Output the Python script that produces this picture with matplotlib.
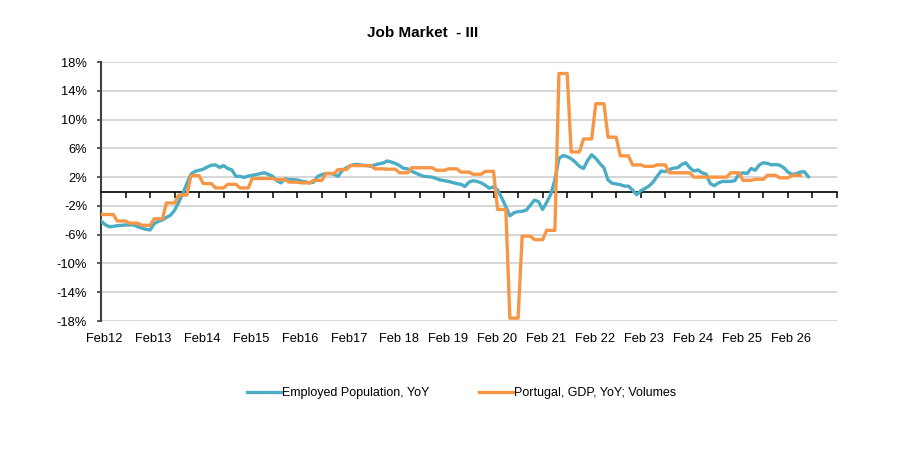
import numpy as np
import matplotlib
matplotlib.use("Agg")
import matplotlib.pyplot as plt
from matplotlib.lines import Line2D

plt.rcParams['font.family'] = ['Liberation Sans', 'DejaVu Sans']

title = "Job Market  - III"
series_names = ["Employed Population, YoY", "Portugal, GDP, YoY; Volumes"]
x_tick_labels = ["Feb12", "Feb13", "Feb14", "Feb15", "Feb16", "Feb17",
                 "Feb 18", "Feb 19", "Feb 20", "Feb 21", "Feb 22", "Feb 23",
                 "Feb 24", "Feb 25", "Feb 26"]
y_ticks = [-18, -14, -10, -6, -2, 2, 6, 10, 14, 18]

# Employed population YoY (%), monthly from Feb 2012
employment_yoy = [
    -4.1, -4.6, -4.9, -4.85, -4.75, -4.7, -4.65, -4.65, -4.65, -4.9, -5.1, -5.25,
    -5.35, -4.5, -4.15, -3.95, -3.6, -3.3, -2.6, -1.5, -0.3, 1.1, 2.4, 2.8,
    2.95, 3.1, 3.4, 3.65, 3.7, 3.35, 3.6, 3.2, 3.0, 2.1, 2.1, 1.95,
    2.15, 2.25, 2.35, 2.5, 2.6, 2.35, 2.1, 1.5, 1.2, 1.75, 1.65, 1.65,
    1.6, 1.45, 1.35, 1.2, 1.3, 2.1, 2.35, 2.5, 2.5, 2.4, 2.1, 2.95,
    3.3, 3.6, 3.75, 3.75, 3.65, 3.6, 3.5, 3.7, 3.85, 3.95, 4.25, 4.1,
    3.9, 3.6, 3.2, 3.15, 2.8, 2.55, 2.3, 2.1, 2.05, 2.0, 1.8, 1.6,
    1.5, 1.4, 1.25, 1.1, 1.0, 0.7, 1.3, 1.5, 1.4, 1.2, 0.85, 0.45,
    0.65, 0.2, -0.9, -2.1, -3.4, -2.95, -2.8, -2.75, -2.6, -1.9, -1.2, -1.4,
    -2.5, -1.5, -0.4, 1.6, 4.6, 5.0, 4.85, 4.55, 4.1, 3.5, 3.2, 4.3,
    5.1, 4.6, 3.9, 3.3, 1.6, 1.15, 1.05, 0.95, 0.75, 0.75, 0.2, -0.45,
    0.1, 0.4, 0.75, 1.3, 2.1, 2.85, 2.75, 3.05, 3.25, 3.3, 3.75, 4.0,
    3.3, 2.85, 3.0, 2.6, 2.4, 1.1, 0.8, 1.2, 1.4, 1.4, 1.4, 1.5,
    2.4, 2.6, 2.5, 3.2, 2.95, 3.7, 4.0, 3.9, 3.7, 3.75, 3.65, 3.3,
    2.7, 2.4, 2.45, 2.7, 2.75, 2.05,
]

# Portugal GDP YoY volumes (%), quarterly from Q1 2012
gdp_yoy_q = [
    -3.2, -4.1, -4.4, -4.7, -3.8, -1.6, -0.5, 2.2,
    1.1, 0.5, 1.0, 0.5, 1.8, 1.8, 1.65, 1.3,
    1.2, 1.55, 2.5, 3.05, 3.6, 3.6, 3.15, 3.1,
    2.6, 3.3, 3.3, 2.95, 3.15, 2.7, 2.4, 2.8,
    -2.5, -17.6, -6.2, -6.7, -5.4, 16.4, 5.5, 7.3,
    12.2, 7.55, 4.95, 3.7, 3.5, 3.7, 2.6, 2.6,
    2.0, 2.0, 2.0, 2.6, 1.55, 1.7, 2.25, 1.9,
    2.25,
]

blue = "#4BACC6"
orange = "#F79646"

emp_x = np.arange(len(employment_yoy))
gdp_vals = np.concatenate([[gdp_yoy_q[0]], np.repeat(gdp_yoy_q, 3)])
gdp_x = np.arange(len(gdp_vals))

W, H = 901, 473
fig = plt.figure(figsize=(W / 100, H / 100), dpi=100)
ax = fig.add_axes([101 / W, (H - 321) / H, 736 / W, 259 / H])

ax.plot(emp_x, employment_yoy, color=blue, lw=2.4, solid_joinstyle='round', zorder=3)
ax.plot(gdp_x, gdp_vals, color=orange, lw=2.4, solid_joinstyle='round', zorder=4)

ax.set_xlim(0, 180)
ax.set_ylim(-18, 18)
ax.set_yticks(y_ticks)
ax.set_yticklabels([f"{v}%" for v in y_ticks], fontsize=9.3, color="#000000")
ax.yaxis.grid(True, color="#D0D0D0", lw=1.2)
ax.set_axisbelow(True)

for s in ("top", "right"):
    ax.spines[s].set_visible(False)
ax.spines["left"].set_color("#404040")
ax.spines["left"].set_linewidth(1.5)
ax.spines["bottom"].set_position(("data", 0))
ax.spines["bottom"].set_color("#000000")
ax.spines["bottom"].set_linewidth(1.2)
ax.spines["bottom"].set_zorder(2.5)

ax.tick_params(axis="y", direction="out", length=3, width=1.2, color="#404040", pad=7)
ax.set_xticks(np.arange(0, 181, 6))
ax.tick_params(axis="x", direction="out", length=4, width=1.1, color="#000000", labelbottom=False)

for k, lab in enumerate(x_tick_labels):
    ax.text(12 * k + 0.8, -18 / 259, lab, transform=ax.get_xaxis_transform(),
            ha="center", va="center", fontsize=9.3)

fig.text(423 / W, 1 - 33 / H, title, ha="center", va="center",
         fontsize=11, fontweight="bold")

handles = [Line2D([], [], color=blue, lw=2.4), Line2D([], [], color=orange, lw=2.4)]
fig.legend(handles, series_names, loc="center", bbox_to_anchor=(461.5 / W, 1 - 393 / H),
           ncol=2, frameon=False, fontsize=9, handlelength=2.7, handletextpad=0.1,
           columnspacing=4.0)

fig.savefig("out.png", dpi=100)
